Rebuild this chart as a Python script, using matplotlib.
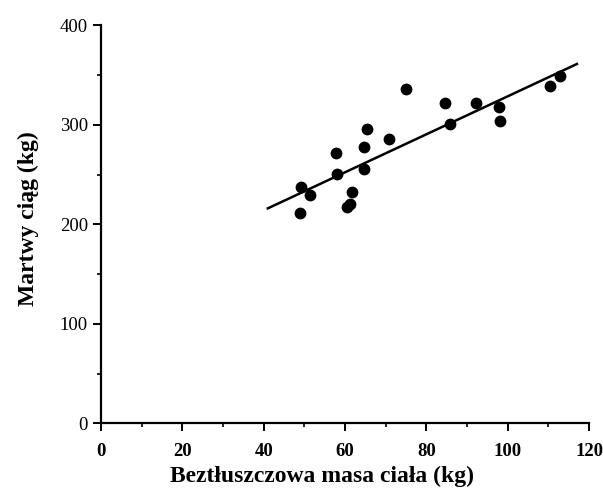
import matplotlib.pyplot as plt
from matplotlib.ticker import MultipleLocator

# beztluszczowa masa ciala (kg) vs martwy ciag (kg)
masa = [48.9, 49.1, 51.4, 57.7, 57.9, 60.4, 61.2, 61.6, 64.6, 64.6,
        65.4, 70.8, 75.1, 84.5, 85.7, 92.1, 97.8, 98.2, 110.5, 112.8]
ciag = [211, 237, 229, 272, 251, 217, 220, 232, 278, 256,
        296, 286, 336, 322, 301, 322, 318, 304, 339, 349]

# linia regresji
linia_x = [41, 117]
linia_y = [216, 361]

plt.rcParams['font.family'] = ['Liberation Serif', 'DejaVu Serif']

fig = plt.figure(figsize=(6.03, 4.93), dpi=100)
ax = fig.add_axes([0.1675, 0.141, 0.8095, 0.808])

ax.plot(masa, ciag, 'o', color='black', markersize=8.5, markeredgewidth=0)
ax.plot(linia_x, linia_y, color='black', linewidth=1.8)

ax.set_xlim(0, 120)
ax.set_ylim(0, 400)
ax.xaxis.set_major_locator(MultipleLocator(20))
ax.xaxis.set_minor_locator(MultipleLocator(10))
ax.yaxis.set_major_locator(MultipleLocator(100))
ax.yaxis.set_minor_locator(MultipleLocator(50))

for s in ['top', 'right']:
    ax.spines[s].set_visible(False)
for s in ['left', 'bottom']:
    ax.spines[s].set_linewidth(1.6)

ax.tick_params(which='major', direction='out', length=6, width=1.4, labelsize=13.5)
ax.tick_params(which='minor', direction='out', length=3, width=1.2)
ax.tick_params(axis='x', pad=8)
for lab in ax.get_xticklabels():
    lab.set_fontweight('bold')

ax.set_xlabel('Beztłuszczowa masa ciała (kg)', fontsize=17, fontweight='bold', va='top')
ax.xaxis.set_label_coords(0.452, -0.105)
ax.set_ylabel('Martwy ciąg (kg)', fontsize=17, fontweight='bold')
ax.yaxis.set_label_coords(-0.128, 0.515)

fig.savefig('out.png', dpi=100)
